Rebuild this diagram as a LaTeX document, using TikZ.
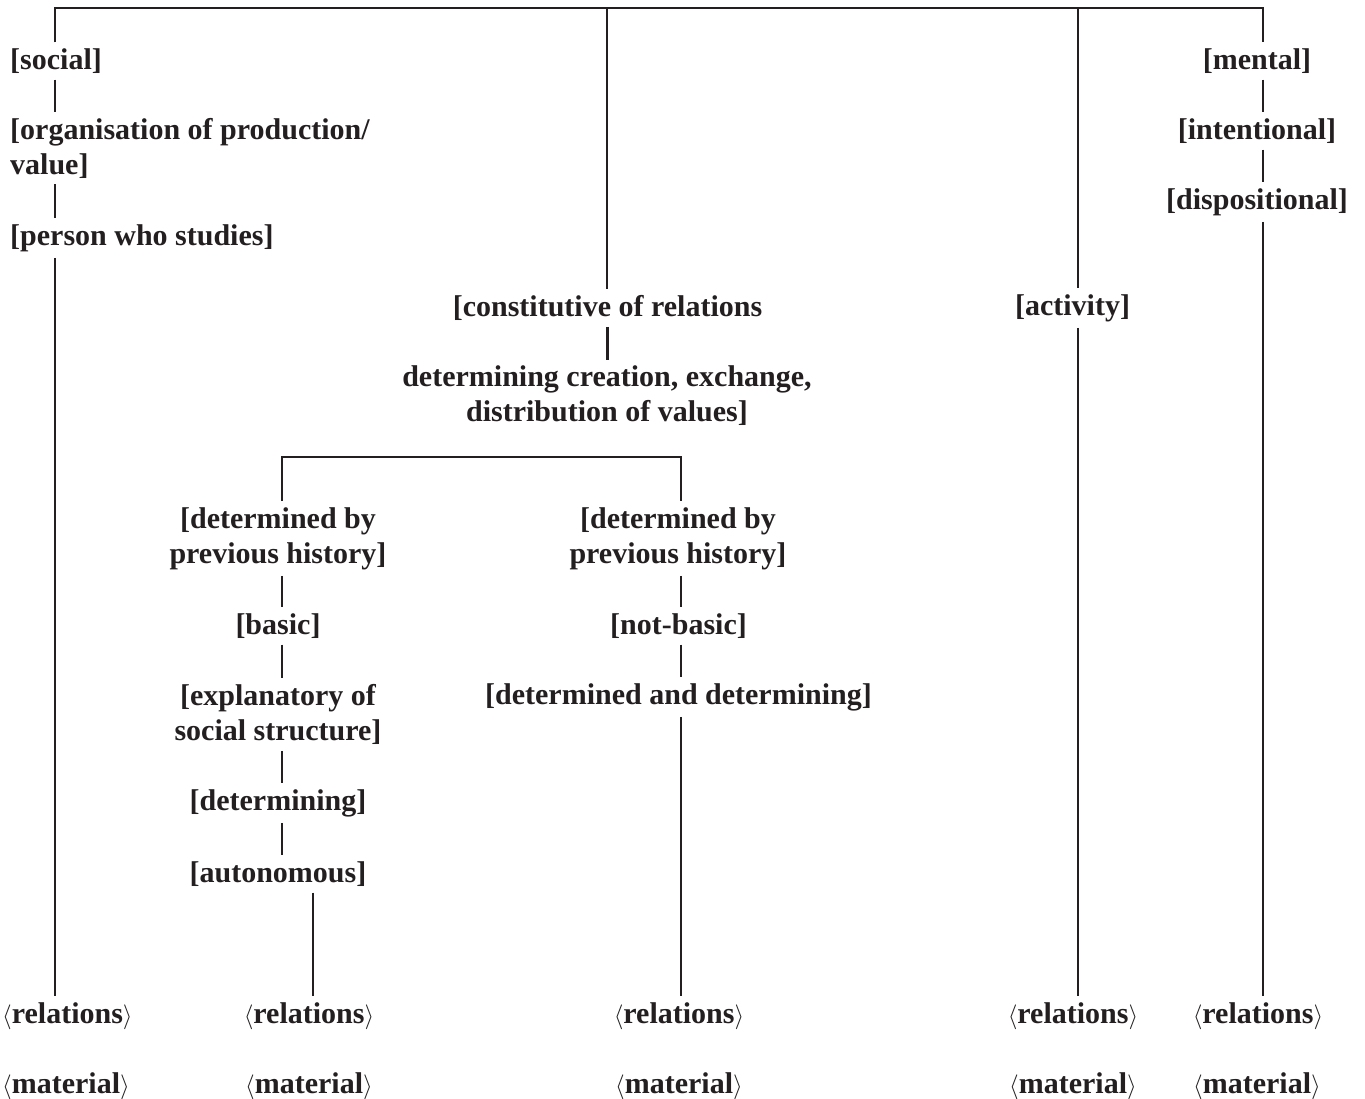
\documentclass[tikz,border=0pt]{standalone}
\usepackage{fontspec}
\setmainfont{Liberation Serif}
\definecolor{ink}{HTML}{231F20}
\begin{document}
\begin{tikzpicture}[x=1pt,y=-1pt,
  lbl/.style={font=\fontsize{30}{35}\selectfont\bfseries, inner xsep=0pt, inner ysep=6pt, yshift=-2pt, text=ink},
  conn/.style={draw=ink, line width=2.6pt}]
\useasboundingbox (0,0) rectangle (1365,1099);
% column coordinates
\coordinate (c1) at (55,8);
\coordinate (c2) at (607,8);
\coordinate (c3) at (1078,8);
\coordinate (c4) at (1263,8);
\coordinate (s1) at (282,457);
\coordinate (s2) at (681,457);
\coordinate (a1) at (313,880);
% left column
\node[lbl,anchor=west] (social) at (10,59) {[social]};
\node[lbl,anchor=west,align=left] (org) at (10,146) {[organisation of production/\\value]};
\node[lbl,anchor=west] (person) at (10,236) {[person who studies]};
\node[lbl,anchor=west] (rel1) at (2,1014) {$\langle$relations$\rangle$};
\node[lbl,anchor=west] (mat1) at (2,1084) {$\langle$material$\rangle$};
% centre column
\node[lbl] (const) at (607.5,306) {[constitutive of relations};
\node[lbl,align=center] (detcr) at (607,394) {determining creation, exchange,\\distribution of values]};
% sub left
\node[lbl,align=center] (dbl) at (278,536.5) {[determined by\\previous history]};
\node[lbl] (basic) at (278,624) {[basic]};
\node[lbl,align=center] (expl) at (278,712.5) {[explanatory of\\social structure]};
\node[lbl] (detg) at (278,801) {[determining]};
\node[lbl] (auton) at (278,872) {[autonomous]};
\node[lbl] (rel2) at (309,1014) {$\langle$relations$\rangle$};
\node[lbl] (mat2) at (309,1084) {$\langle$material$\rangle$};
% sub right
\node[lbl,align=center] (dbr) at (678,536.5) {[determined by\\previous history]};
\node[lbl] (notb) at (678.5,624) {[not-basic]};
\node[lbl] (dad) at (678.5,695) {[determined and determining]};
\node[lbl] (rel3) at (679,1014) {$\langle$relations$\rangle$};
\node[lbl] (mat3) at (679,1084) {$\langle$material$\rangle$};
% activity
\node[lbl] (act) at (1072.5,306) {[activity]};
\node[lbl] (rel4) at (1073,1014) {$\langle$relations$\rangle$};
\node[lbl] (mat4) at (1073,1084) {$\langle$material$\rangle$};
% mental
\node[lbl] (mental) at (1257,59) {[mental]};
\node[lbl] (intent) at (1257,129) {[intentional]};
\node[lbl] (disp) at (1257,200) {[dispositional]};
\node[lbl] (rel5) at (1258,1014) {$\langle$relations$\rangle$};
\node[lbl] (mat5) at (1257,1084) {$\langle$material$\rangle$};
% connectors
\draw[conn] (c1 |- social.north) -- (c1) -- (c4) -- (c4 |- mental.north);
\draw[conn] (c2) -- (c2 |- const.north);
\draw[conn] (c3) -- (c3 |- act.north);
\draw[conn] (c1 |- social.south) -- (c1 |- org.north);
\draw[conn] (c1 |- org.south) -- (c1 |- person.north);
\draw[conn] (c1 |- person.south) -- (c1 |- rel1.north);
\draw[conn] (const.south) -- (const.south |- detcr.north);
\draw[conn] (s1 |- dbl.north) -- (s1) -- (s2) -- (s2 |- dbr.north);
\draw[conn] (s1 |- dbl.south) -- (s1 |- basic.north);
\draw[conn] (s1 |- basic.south) -- (s1 |- expl.north);
\draw[conn] (s1 |- expl.south) -- (s1 |- detg.north);
\draw[conn] (s1 |- detg.south) -- (s1 |- auton.north);
\draw[conn] (a1 |- auton.south) -- (a1 |- rel2.north);
\draw[conn] (s2 |- dbr.south) -- (s2 |- notb.north);
\draw[conn] (s2 |- notb.south) -- (s2 |- dad.north);
\draw[conn] (s2 |- dad.south) -- (s2 |- rel3.north);
\draw[conn] (c3 |- act.south) -- (c3 |- rel4.north);
\draw[conn] (c4 |- mental.south) -- (c4 |- intent.north);
\draw[conn] (c4 |- intent.south) -- (c4 |- disp.north);
\draw[conn] (c4 |- disp.south) -- (c4 |- rel5.north);
\end{tikzpicture}
\end{document}
